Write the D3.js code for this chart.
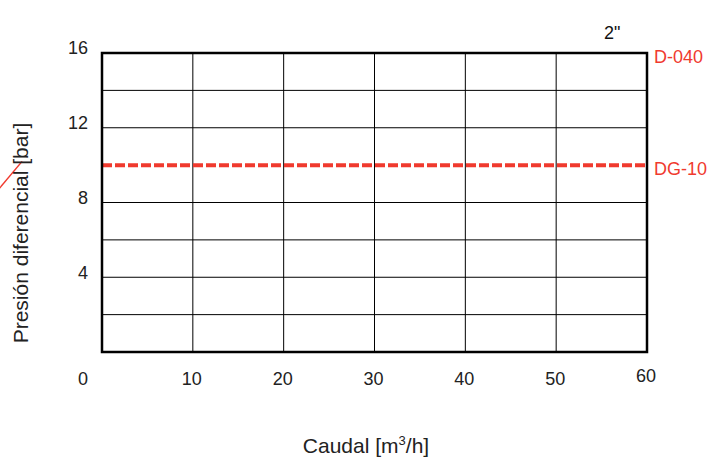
<!DOCTYPE html>
<html>
<head>
	<title>Presión diferencial</title>
	<meta http-equiv="Content-Type" content="text/html; charset=utf-8" />
	<script type="text/javascript" charset="utf-8" src="https://cdn.jsdelivr.net/npm/d3@7/dist/d3.min.js"></script>
	<style type="text/css">
	body {
	  margin: 0;
	  background-color: #fff;
	  font-family: 'Liberation Sans', Arial, Helvetica, sans-serif;
	}
	</style>
</head>
<body>

	<svg width="710" height="459" version="1.1" xmlns="http://www.w3.org/2000/svg"></svg>

<script type="text/javascript">

// ---- datos ----
var v_XTicks     = [10 ,20 ,30 ,40 ,50 ,60];
var v_YTicks     = [4 ,8 ,12 ,16];
var v_XGrid      = [0 ,10 ,20 ,30 ,40 ,50 ,60];
var v_YGrid      = [0 ,2 ,4 ,6 ,8 ,12 ,14 ,16];   // la de 10 queda tapada por DG-10
var v_SeriesName = ["D-040" ,"DG-10"];
var v_SeriesP    = [16 ,10];              // presión de cada curva [bar]
var v_DG10       = [{q:0 ,p:10} ,{q:60 ,p:10}];
var v_Stray      = [{q:-11.4 ,p:8.7} ,{q:-8.8 ,p:10.2}];   // trozo de curva fuera del gráfico
var v_SizeLabel  = "2\"";

var v_Red = "#f03a2e";
var m = {left:102 ,right:647 ,top:53 ,bottom:352};

var v_SVG = d3.select("body").select("svg");

var x = d3.scaleLinear().domain([0 ,60]).range([m.left ,m.right]);
var y = d3.scaleLinear().domain([0 ,16]).range([m.bottom ,m.top]);

// cuadricula
v_SVG.append("g").selectAll("line").data(v_XGrid).enter().append("line")
.attr("x1" ,function(d) { return x(d); })
.attr("x2" ,function(d) { return x(d); })
.attr("y1" ,m.top)
.attr("y2" ,m.bottom)
.attr("stroke" ,"#000")
.attr("stroke-width" ,1);

v_SVG.append("g").selectAll("line").data(v_YGrid).enter().append("line")
.attr("x1" ,m.left)
.attr("x2" ,m.right)
.attr("y1" ,function(d) { return y(d); })
.attr("y2" ,function(d) { return y(d); })
.attr("stroke" ,"#000")
.attr("stroke-width" ,1);

// linea DG-10
var v_Line = d3.line().x(function(d) { return x(d.q); }).y(function(d) { return y(d.p); });

v_SVG.append("path")
.datum(v_DG10)
.attr("d" ,v_Line)
.attr("fill" ,"none")
.attr("stroke" ,v_Red)
.attr("stroke-width" ,4)
.attr("stroke-dasharray" ,"10,3");

v_SVG.append("path")
.datum(v_Stray)
.attr("d" ,v_Line)
.attr("fill" ,"none")
.attr("stroke" ,v_Red)
.attr("stroke-width" ,1.5);

// marco
v_SVG.append("rect")
.attr("x" ,m.left)
.attr("y" ,m.top)
.attr("width" ,m.right - m.left)
.attr("height" ,m.bottom - m.top)
.attr("fill" ,"none")
.attr("stroke" ,"#000")
.attr("stroke-width" ,2.5);

// etiquetas eje X
v_SVG.append("g").selectAll("text").data(v_XTicks).enter().append("text")
.attr("x" ,function(d) { return x(d) - 1; })
.attr("y" ,function(d) { return d == 60 ? 382 : 385; })
.attr("text-anchor" ,"middle")
.attr("font-size" ,18)
.attr("fill" ,"#222")
.text(function(d) { return d; });

v_SVG.append("text")
.attr("x" ,x(0) - 19)
.attr("y" ,385)
.attr("text-anchor" ,"middle")
.attr("font-size" ,18)
.attr("fill" ,"#222")
.text("0");

// etiquetas eje Y
v_SVG.append("g").selectAll("text").data(v_YTicks).enter().append("text")
.attr("x" ,88)
.attr("y" ,function(d) { return y(d) - 5; })
.attr("dy" ,"0.35em")
.attr("text-anchor" ,"end")
.attr("font-size" ,18)
.attr("fill" ,"#222")
.text(function(d) { return d; });

// nombres de las curvas
v_SVG.append("g").selectAll("text").data(v_SeriesName).enter().append("text")
.attr("x" ,m.right + 7)
.attr("y" ,function(d ,i) { return y(v_SeriesP[i]) + 10; })
.attr("font-size" ,18)
.attr("fill" ,v_Red)
.text(function(d) { return d; });

// tamaño
v_SVG.append("text")
.attr("x" ,604)
.attr("y" ,39)
.attr("font-size" ,18)
.attr("fill" ,"#111")
.text(v_SizeLabel);

// titulos de ejes
var v_XTitle = v_SVG.append("text")
.attr("x" ,366)
.attr("y" ,453)
.attr("text-anchor" ,"middle")
.attr("font-size" ,21)
.attr("fill" ,"#222");
v_XTitle.append("tspan").text("Caudal [m");
v_XTitle.append("tspan").attr("font-size" ,13).attr("dy" ,-8).text("3");
v_XTitle.append("tspan").attr("dy" ,8).text("/h]");

v_SVG.append("text")
.attr("transform" ,"translate(28,233) rotate(-90)")
.attr("text-anchor" ,"middle")
.attr("font-size" ,21)
.attr("fill" ,"#222")
.text("Presión diferencial [bar]");

</script>

</body>
</html>
